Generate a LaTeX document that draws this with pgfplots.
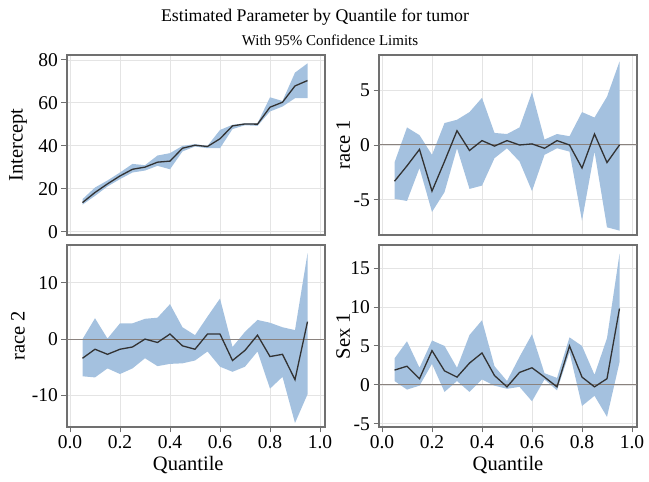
\documentclass[border=0pt]{standalone}
\usepackage{pgfplots}
\pgfplotsset{compat=1.18}
\usepackage{pgfplotstable}
\usepgfplotslibrary{fillbetween}
\usepackage{fontspec}
\setmainfont{Liberation Serif}

\definecolor{bandc}{RGB}{164,193,223}
\definecolor{estc}{RGB}{50,50,50}
\definecolor{refc}{RGB}{138,130,126}
\definecolor{framec}{RGB}{112,112,112}
\definecolor{gridc}{RGB}{228,228,228}

% q lo est hi
\pgfplotstableread{
q lo est hi
0.05 12.6 13.6 15.2
0.10 16.7 18.3 20.6
0.15 21.1 22.3 23.9
0.20 24.5 26.0 27.6
0.25 27.6 29.1 31.6
0.30 28.5 30.1 31.0
0.35 30.7 32.4 35.5
0.40 29.1 32.9 36.6
0.45 37.4 38.9 40.0
0.50 39.7 40.3 40.8
0.55 38.9 39.7 40.0
0.60 38.9 43.3 47.4
0.65 47.8 49.3 49.8
0.70 49.6 50.2 50.5
0.75 49.3 50.1 50.5
0.80 56.0 58.0 62.6
0.85 58.3 60.3 60.9
0.90 62.2 67.9 74.1
0.95 62.2 70.4 78.4
}\intercept

\pgfplotstableread{
q lo est hi
0.05 -4.9 -3.3 -1.6
0.10 -5.1 -1.9 1.6
0.15 -2.1 -0.4 0.9
0.20 -6.1 -4.2 -0.9
0.25 -4.3 -1.5 2.0
0.30 -0.3 1.3 2.3
0.35 -4.0 -0.5 3.0
0.40 -3.7 0.4 4.3
0.45 -1.2 -0.1 1.1
0.50 -0.3 0.4 1.0
0.55 -1.5 0.0 1.6
0.60 -4.2 0.1 4.8
0.65 -0.9 -0.3 0.5
0.70 -0.3 0.4 1.0
0.75 -0.6 0.0 0.8
0.80 -6.9 -2.1 3.0
0.85 -0.6 1.0 2.5
0.90 -7.5 -1.6 4.4
0.95 -7.8 0.0 7.6
}\raceone

\pgfplotstableread{
q lo est hi
0.05 -6.6 -3.4 0.0
0.10 -6.8 -1.8 3.7
0.15 -5.2 -2.7 0.1
0.20 -6.2 -1.8 2.8
0.25 -5.2 -1.4 2.8
0.30 -3.4 0.0 3.6
0.35 -4.8 -0.6 3.8
0.40 -4.4 0.9 6.2
0.45 -4.3 -1.2 2.1
0.50 -3.8 -1.8 0.7
0.55 -2.2 0.9 4.0
0.60 -4.9 0.9 7.2
0.65 -5.8 -3.8 -1.4
0.70 -4.9 -2.0 1.3
0.75 -2.2 0.7 3.4
0.80 -8.8 -3.1 2.9
0.85 -6.7 -2.7 2.1
0.90 -14.9 -7.2 1.6
0.95 -9.8 3.1 15.2
}\racetwo

\pgfplotstableread{
q lo est hi
0.05 0.5 1.9 3.4
0.10 -0.6 2.4 5.6
0.15 -0.1 0.8 2.2
0.20 2.7 4.4 5.7
0.25 -0.9 1.8 5.0
0.30 0.5 1.0 2.2
0.35 -0.9 2.8 6.4
0.40 0.7 4.1 8.3
0.45 -0.1 1.2 2.4
0.50 -0.5 -0.25 0.5
0.55 -0.25 1.6 3.6
0.60 -2.1 2.2 6.5
0.65 0.7 1.0 1.5
0.70 -0.7 -0.25 0.9
0.75 4.2 5.0 6.1
0.80 -2.7 1.0 5.0
0.85 -1.4 -0.25 1.3
0.90 -4.1 0.8 6.0
0.95 2.9 9.8 16.8
}\sexone

\pgfplotsset{
  panel/.style={
    scale only axis, width=258pt, height=180pt,
    xmin=-0.012, xmax=1.02,
    xtick={0,0.2,0.4,0.6,0.8,1.0},
    grid=major,
    major grid style={draw=gridc, line width=0.8pt},
    axis line style={draw=framec, line width=1.5pt},
    tick style={draw=framec, line width=0.9pt},
    tick align=outside, major tick length=5.5pt,
    xtick pos=left, ytick pos=left,
    font=\fontsize{20.5}{24}\selectfont,
    tick label style={font=\fontsize{19.5}{22}\selectfont},
    /pgf/number format/assume math mode=true,
    xticklabel style={/pgf/number format/.cd, fixed, fixed zerofill, precision=1},
    yticklabel style={/pgf/number format/.cd, fixed},
  },
  toprow/.style={xmajorticks=false},
  botrow/.style={xlabel={Quantile}},
}

% band and estimate
\newcommand{\panelplots}[1]{%
  \addplot[name path=hi, draw=none, forget plot] table[x=q, y=hi] {#1};
  \addplot[name path=lo, draw=none, forget plot] table[x=q, y=lo] {#1};
  \addplot[fill=bandc, draw=none] fill between[of=hi and lo];
}
\newcommand{\zeroline}{%
  \draw[refc, line width=1pt] ({rel axis cs:0,0}|-{axis cs:0,0}) -- ({rel axis cs:1,0}|-{axis cs:0,0});
}
\newcommand{\estline}[1]{%
  \addplot[estc, line width=1.3pt] table[x=q, y=est] {#1};
}

\begin{document}
\begin{tikzpicture}

\node[font=\fontsize{17.8}{20}\selectfont] at (315pt,465pt) {Estimated Parameter by Quantile for tumor};
\node[font=\fontsize{15}{17}\selectfont] at (330pt,442pt) {With 95\% Confidence Limits};

% top left
\begin{axis}[panel, toprow, at={(67pt,247pt)}, anchor=south west,
  ymin=-1.5, ymax=82.3, ytick={0,20,40,60,80},
  ylabel={Intercept},
  ylabel style={at={(axis description cs:-0.19,0.5)}, anchor=center}]
\panelplots{\intercept}
\estline{\intercept}
\end{axis}

% top right
\begin{axis}[panel, toprow, at={(379pt,247pt)}, anchor=south west,
  ymin=-8.2, ymax=8.2, ytick={-5,0,5},
  ylabel={race 1},
  ylabel style={at={(axis description cs:-0.139,0.5)}, anchor=center}]
\panelplots{\raceone}
\zeroline
\estline{\raceone}
\end{axis}

% bottom left
\begin{axis}[panel, botrow, at={(67pt,55pt)}, anchor=south west, height=182pt,
  ymin=-15.6, ymax=16.7, ytick={-10,0,10},
  ylabel={race 2},
  ylabel style={at={(axis description cs:-0.19,0.5)}, anchor=center},
  xlabel style={at={(axis description cs:0.47,-0.21)}, anchor=center}]
\panelplots{\racetwo}
\zeroline
\estline{\racetwo}
\end{axis}

% bottom right
\begin{axis}[panel, botrow, at={(379pt,55pt)}, anchor=south west, height=182pt,
  ymin=-5.4, ymax=17.95, ytick={-5,0,5,10,15},
  ylabel={Sex 1},
  ylabel style={at={(axis description cs:-0.139,0.5)}, anchor=center},
  xlabel style={at={(axis description cs:0.5,-0.21)}, anchor=center}]
\panelplots{\sexone}
\zeroline
\estline{\sexone}
\end{axis}

\path (0,0) rectangle (649pt,482pt);
\end{tikzpicture}
\end{document}
